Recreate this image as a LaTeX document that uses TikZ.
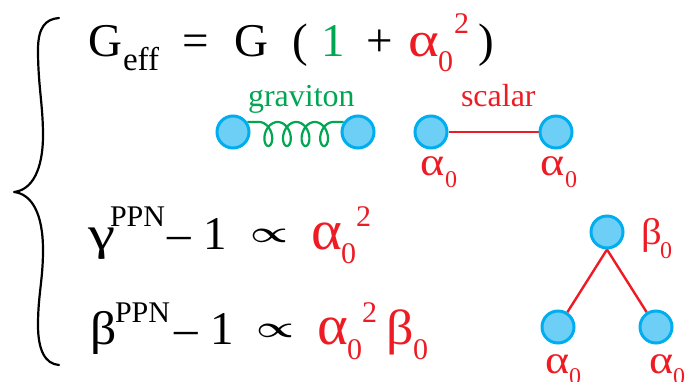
\documentclass[tikz,border=0pt]{standalone}
\usepackage{fontspec}
\setmainfont{Liberation Serif}
\usetikzlibrary{backgrounds}
\definecolor{cfill}{HTML}{6DCFF6}
\definecolor{cline}{HTML}{00AEEF}
\definecolor{cgreen}{HTML}{00A651}
\definecolor{cred}{HTML}{ED1C24}
\newcommand{\fs}[1]{\fontsize{#1}{#1}\selectfont}
\newcommand{\sg}[3]{\scalebox{#1}[#2]{#3}}
\tikzset{
  txt/.style={anchor=base west,inner sep=0pt,outer sep=0pt},
  big/.style={txt,font=\fs{47}},
  mid/.style={txt,font=\fs{30}},
  small/.style={txt,font=\fs{24},text=cred},
  mga/.style={txt,font=\fs{40},text=cred},
  lab/.style={txt,font=\fs{32}},
  rbig/.style={big,text=cred},
  rmid/.style={mid,text=cred},
  vertex/.style={circle,draw=cline,fill=cfill,line width=3pt,minimum size=32pt,inner sep=0pt},
  redline/.style={draw=cred,line width=2.4pt},
  greenline/.style={draw=cgreen,line width=2.2pt}
}
\begin{document}
\begin{tikzpicture}[x=1pt,y=-1pt]
\useasboundingbox (0,0) rectangle (687,381);
% brace
\draw[line width=2.2pt,line cap=round,line join=round] (59,18) .. controls (45,19) and (38,28) .. (38,50)
  .. controls (38,85) and (43,105) .. (43,135)
  .. controls (43,170) and (32,190) .. (14,192)
  .. controls (32,194) and (43,214) .. (43,250)
  .. controls (43,280) and (38,295) .. (38,325)
  .. controls (38,350) and (45,364) .. (59,365);
% first line
\node[big] (g) at (88,56) {G};
\node[txt,font=\fs{33}] (eff) at (123,70) {eff};
\node[big] (eq) at (182,56) {=};
\node[big] (g2) at (234,56) {G};
\node[big] (lp) at (292,56) {(};
\node[big,text=cgreen] (one) at (321,56) {1};
\node[big] (plus) at (366,56) {+};
\node[rbig] (a1) at (408,56) {\sg{1.25}{1.05}{α}};
\node[rmid] (a1s) at (438,71) {0};
\node[rmid] (a1p) at (454,33) {2};
\node[big] (rp) at (478,56) {)};
% labels
\node[lab,text=cgreen] (lg) at (248,106) {graviton};
\node[lab,text=cred] (ls) at (461,106) {scalar};
% vertices
\node[vertex] (v1) at (233,132) {};
\node[vertex] (v2) at (358,132) {};
\node[vertex] (v3) at (431,132) {};
\node[vertex] (v4) at (556,132) {};
\node[vertex] (v5) at (607,232) {};
\node[vertex] (v6) at (558,327) {};
\node[vertex] (v7) at (656,327) {};
\begin{pgfonlayer}{background}
\draw[greenline] (v1.35) .. controls (251,122) .. (259,122)
  -- plot[smooth,samples=161,domain=0:1440,variable=\t] ({259+0.051667*\t+8*sin(\t)},{134-12*cos(\t)})
  .. controls (342,122) .. (v2.145);
\draw[redline] (v3) -- (v4);
\draw[redline] (v5.south) -- (v6);
\draw[redline] (v5.south) -- (v7);
\end{pgfonlayer}
\node[mga] (b1) at (420,175) {\sg{1.15}{1}{α}};
\node[small] (b1s) at (445,187) {0};
\node[mga] (b2) at (540,175) {\sg{1.15}{1}{α}};
\node[small] (b2s) at (565,187) {0};
\node[rbig,font=\fs{37}] (b3) at (641,244) {\sg{1.1}{1}{β}};
\node[small] (b3s) at (660,258) {0};
\node[mga] (b4) at (545,373) {\sg{1.15}{1}{α}};
\node[small] (b4s) at (569,384) {0};
\node[mga] (b5) at (649,373) {\sg{1.15}{1}{α}};
\node[small] (b5s) at (673,384) {0};
% second line
\node[big] (ga) at (88,249) {\sg{1.3}{1}{γ}};
\node[mid] (ppn) at (110,226) {PPN};
\node[big] (m1) at (167,249) {–};
\node[big] (o1) at (203,249) {1};
\node[big] (pr1) at (250,242) {\sg{1.7}{1.2}{\boldmath$\propto$}};
\node[rbig] (a2) at (311,249) {\sg{1.25}{1.2}{α}};
\node[rmid] (a2s) at (341,263) {0};
\node[rmid] (a2p) at (356,226) {2};
% third line
\node[big] (be) at (90,344) {\sg{1.1}{1}{β}};
\node[mid] (ppn2) at (115,322) {PPN};
\node[big] (m2) at (174,344) {–};
\node[big] (o2) at (210,344) {1};
\node[big] (pr2) at (256,337) {\sg{1.7}{1.2}{\boldmath$\propto$}};
\node[rbig] (a3) at (317,344) {\sg{1.25}{1.2}{α}};
\node[rmid] (a3s) at (347,359) {0};
\node[rmid] (a3p) at (362,322) {2};
\node[rbig] (b6) at (386,344) {\sg{1.15}{1.05}{β}};
\node[rmid] (b6s) at (413,359) {0};
\end{tikzpicture}
\end{document}
